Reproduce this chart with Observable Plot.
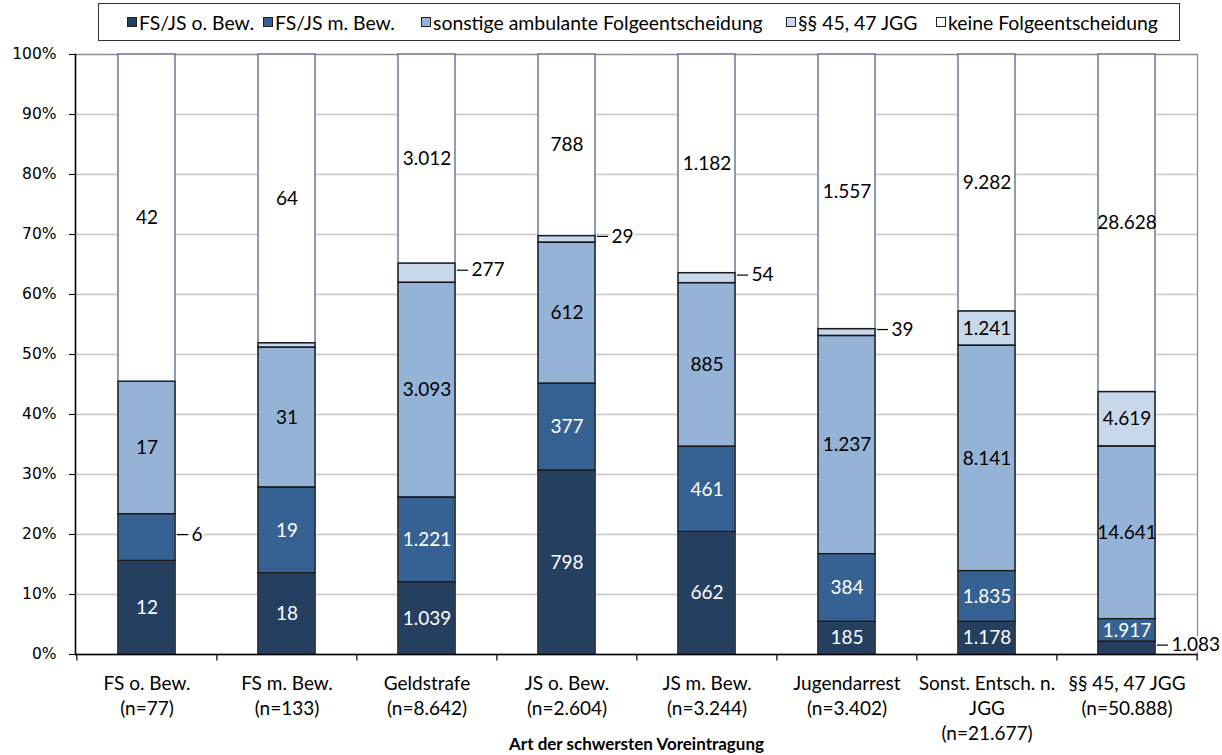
<!DOCTYPE html>
<html>
<head>
<meta charset="utf-8">
<script src="https://cdn.jsdelivr.net/npm/d3@7"></script>
<script src="https://cdn.jsdelivr.net/npm/@observablehq/plot@0.6"></script>
<style>
  body { margin: 0; background: #fff; }
  #legend { position: relative; height: 44px; width: 1222px; font-family: Lato, "Open Sans", sans-serif; font-size: 19.4px; color: #000; }
  #legend .box { position: absolute; left: 98px; top: 3px; width: 1082px; height: 38px; border: 1px solid #333; box-sizing: border-box; }
  #legend .item { position: absolute; top: 0; height: 36px; display: flex; align-items: center; white-space: nowrap; }
  #legend .sw { width: 10px; height: 10px; border: 1px solid #222; margin-right: 2px; box-sizing: border-box; }
  #chart svg { display: block; }
</style>
</head>
<body>
<div id="legend"><div class="box"></div></div>
<div id="chart"></div>
<script>
// ---------- data ----------
const categories = ["FS o. Bew.", "FS m. Bew.", "Geldstrafe", "JS o. Bew.", "JS m. Bew.", "Jugendarrest", "Sonst. Entsch. n.\nJGG", "§§ 45, 47 JGG"];
const sampleSizes = [77, 133, 8642, 2604, 3244, 3402, 21677, 50888];
const seriesNames = ["FS/JS o. Bew.", "FS/JS m. Bew.", "sonstige ambulante Folgeentscheidung", "§§ 45, 47 JGG", "keine Folgeentscheidung"];
const seriesColors = ["#253F61", "#366193", "#95B3D7", "#C8D7EA", "#FFFFFF"];
const fsjsOhneBew   = [12, 18, 1039, 798, 662, 185, 1178, 1083];
const fsjsMitBew    = [6, 19, 1221, 377, 461, 384, 1835, 1917];
const sonstigeAmb   = [17, 31, 3093, 612, 885, 1237, 8141, 14641];
const jgg4547       = [0, 1, 277, 29, 54, 39, 1241, 4619];
const keineFolge    = [42, 64, 3012, 788, 1182, 1557, 9282, 28628];
const yTicks = [0, 0.1, 0.2, 0.3, 0.4, 0.5, 0.6, 0.7, 0.8, 0.9, 1];
// labels drawn beside the bar with a leader line
const outsideLabels = [["FS o. Bew.", "FS/JS m. Bew."], ["Geldstrafe", "§§ 45, 47 JGG"], ["JS o. Bew.", "§§ 45, 47 JGG"],
  ["JS m. Bew.", "§§ 45, 47 JGG"], ["Jugendarrest", "§§ 45, 47 JGG"], ["§§ 45, 47 JGG", "FS/JS o. Bew."]];
// segments without a label
const unlabeled = [["FS o. Bew.", "§§ 45, 47 JGG"], ["FS m. Bew.", "§§ 45, 47 JGG"]];
const xTitle = "Art der schwersten Voreintragung";

// ---------- table ----------
const seriesValues = [fsjsOhneBew, fsjsMitBew, sonstigeAmb, jgg4547, keineFolge];
const de = d3.formatLocale({decimal: ",", thousands: ".", grouping: [3], currency: ["", " €"]});
const fmtN = de.format(",d");
const has = (list, c, s) => list.some(([a, b]) => a === c && b === s);
const rows = [];
categories.forEach((c, i) => {
  seriesNames.forEach((s, j) => {
    const v = seriesValues[j][i];
    const outside = has(outsideLabels, c, s);
    const hidden = has(unlabeled, c, s);
    rows.push({cat: c, series: s, value: v, label: fmtN(v),
      inside: !outside && !hidden, outside, dark: j < 2, isKeine: j === 4});
  });
});

// ---------- legend ----------
const legendLeft = [28, 164, 322, 687, 837];
const box = document.querySelector("#legend .box");
seriesNames.forEach((s, j) => {
  const it = document.createElement("div");
  it.className = "item";
  it.style.left = legendLeft[j] + "px";
  it.innerHTML = `<span class="sw" style="background:${seriesColors[j]}"></span><span></span>`;
  it.lastChild.textContent = s;
  box.appendChild(it);
});

// ---------- chart ----------
const W = 1222, H = 711, mL = 75, mR = 25, mT = 10, mB = 101;
const step = (W - mL - mR) / categories.length;
const pad = 0.594;
const bw = step * (1 - pad);
const stack = (o) => Plot.stackY({offset: "normalize", order: null}, {x: "cat", y: "value", z: "series", ...o});
const calibri = "Lato, 'Open Sans', sans-serif";

const chart = Plot.plot({
  width: W, height: H,
  marginLeft: mL, marginRight: mR, marginTop: mT, marginBottom: mB,
  x: {domain: categories, paddingInner: pad, paddingOuter: pad / 2},
  y: {domain: [0, 1]},
  color: {domain: seriesNames, range: seriesColors},
  opacity: {domain: [0, 1], range: [0, 1]},
  style: {fontFamily: calibri, background: "#fff", color: "#000"},
  marks: [
    Plot.gridY(yTicks, {stroke: "#c8c8c8", strokeOpacity: 1, strokeWidth: 1.3}),
    Plot.frame({stroke: "#8a8a8a", strokeWidth: 1.3}),
    Plot.barY(rows, stack({fill: "series", stroke: "#5B7394", strokeWidth: 1.4})),
    Plot.barY(rows, stack({fill: null, stroke: "#1a1a1a", strokeWidth: 1.25, strokeOpacity: d => d.isKeine ? 0 : 1})),
    Plot.text(rows, stack({text: d => d.inside && d.dark ? d.label : "", fill: "white", fontSize: 19, fontFamily: calibri})),
    Plot.text(rows, stack({text: d => d.inside && !d.dark ? d.label : "", fill: "black", fontSize: 19, fontFamily: calibri})),
    Plot.tickY(rows, stack({stroke: "#000", strokeWidth: 1.2, strokeOpacity: d => d.outside ? 1 : 0,
      insetLeft: bw - 11, insetRight: 0, dx: 13, dy: -3})),
    Plot.text(rows, stack({text: d => d.outside ? d.label : "", fill: "black", fontSize: 19, fontFamily: calibri,
      textAnchor: "start", dx: bw / 2 + 16, dy: -3, stroke: "white", strokeWidth: 5, paintOrder: "stroke"})),
    Plot.ruleY([0], {stroke: "#000", strokeWidth: 1.5}),
    Plot.frame({anchor: "left", stroke: "#000", strokeWidth: 1.5}),
    Plot.ruleX(categories, {x: d => d, y1: 0, y2: -0.011, dx: -step / 2, stroke: "#000", strokeWidth: 1.2}),
    Plot.ruleX(categories.slice(-1), {x: d => d, y1: 0, y2: -0.011, dx: step / 2, stroke: "#000", strokeWidth: 1.2}),
    Plot.axisY(yTicks, {tickFormat: d3.format(".0%"), tickSize: 6, tickPadding: 13, fontSize: 15.5,
      fontFamily: "'DejaVu Sans', sans-serif", label: null, stroke: "#000"}),
    Plot.axisX({tickSize: 0, tickPadding: 18, fontSize: 19, lineHeight: 1.32, fontFamily: calibri, label: null,
      tickFormat: (d) => `${d}\n(n=${fmtN(sampleSizes[categories.indexOf(d)])})`}),
    Plot.text([xTitle], {frameAnchor: "bottom", dy: 95, fontWeight: "bold", fontSize: 17, fontFamily: calibri})
  ]
});
document.getElementById("chart").appendChild(chart);
</script>
</body>
</html>
